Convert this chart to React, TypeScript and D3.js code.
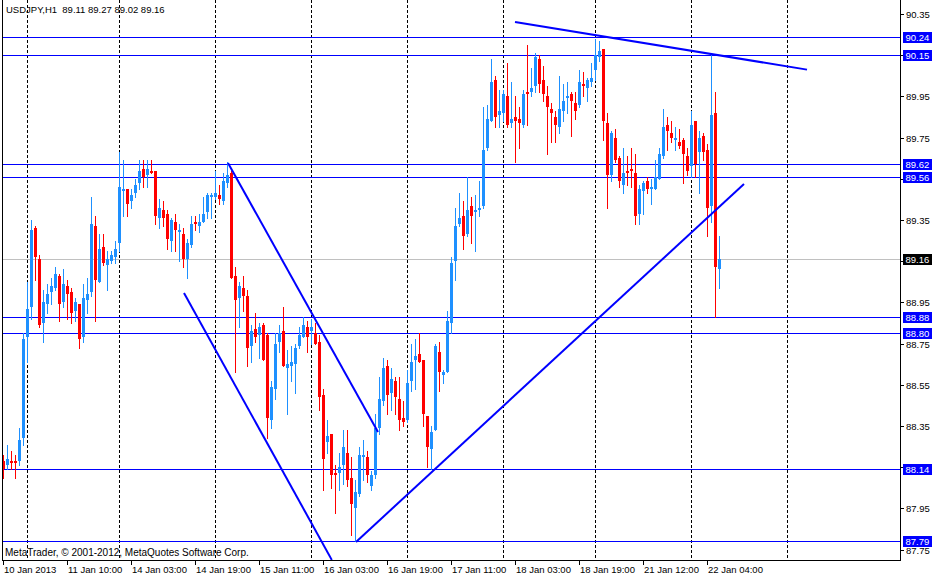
import React from 'react';
import * as d3 from 'd3';

// ---- data ----
const symbolTitle = 'USDJPY,H1';
const opens = [
  88.18, 88.16, 88.18, 88.18, 88.18, 88.29, 88.78, 88.93, 89.31, 89.16,
  88.85, 88.94, 89.00, 89.02, 89.08, 88.95, 89.03, 89.00, 88.91, 88.94,
  88.78, 88.96, 89.00, 89.32, 89.05, 89.22, 89.13, 89.15, 89.17, 89.24,
  89.49, 89.50, 89.44, 89.48, 89.53, 89.60, 89.57, 89.59, 89.59, 89.36,
  89.40, 89.38, 89.25, 89.34, 89.29, 89.28, 89.16, 89.23, 89.34, 89.32,
  89.34, 89.39, 89.46, 89.46, 89.47, 89.44, 89.53, 89.58, 89.08, 88.97,
  89.02, 88.98, 88.74, 88.82, 88.79, 88.84, 88.79, 88.38, 88.53, 88.76,
  88.81, 88.63, 88.64, 88.65, 88.74, 88.78, 88.83, 88.81, 88.80, 88.76,
  88.50, 88.27, 88.31, 88.12, 88.12, 88.16, 88.22, 88.10, 87.95, 88.02,
  88.20, 88.20, 88.06, 88.11, 88.34, 88.47, 88.64, 88.51, 88.57, 88.48,
  88.39, 88.38, 88.57, 88.67, 88.70, 88.67, 88.40, 88.24, 88.33, 88.71,
  88.60, 88.61, 88.85, 89.15, 89.33, 89.37, 89.28, 89.42, 89.39, 89.40,
  89.42, 89.70, 89.83, 90.03, 89.86, 89.87, 89.95, 89.82, 89.85, 89.84,
  89.81, 89.97, 89.97, 90.00, 90.13, 90.03, 89.95, 89.89, 89.85, 89.80,
  89.88, 89.94, 89.96, 89.92, 89.91, 90.01, 89.99, 90.02, 90.08, 90.14,
  90.18, 89.82, 89.57, 89.75, 89.65, 89.52, 89.59, 89.60, 89.58, 89.38,
  89.49, 89.54, 89.50, 89.50, 89.55, 89.66, 89.81, 89.77, 89.74, 89.73,
  89.74, 89.66, 89.61, 89.83, 89.68, 89.76, 89.69, 89.42, 89.87, 89.11,
];
const highs = [
  88.21, 88.26, 88.23, 88.21, 88.34, 88.80, 89.05, 89.35, 89.32, 89.18,
  89.01, 89.04, 89.07, 89.12, 89.09, 89.11, 89.06, 89.02, 88.97, 88.94,
  89.04, 89.07, 89.46, 89.37, 89.28, 89.28, 89.20, 89.20, 89.25, 89.68,
  89.64, 89.50, 89.50, 89.55, 89.64, 89.64, 89.64, 89.64, 89.59, 89.45,
  89.44, 89.40, 89.36, 89.38, 89.33, 89.31, 89.26, 89.37, 89.37, 89.38,
  89.46, 89.48, 89.48, 89.59, 89.52, 89.58, 89.63, 89.59, 89.12, 89.05,
  89.08, 89.01, 88.84, 88.90, 88.85, 88.85, 88.80, 88.57, 88.80, 88.84,
  88.93, 88.72, 88.74, 88.75, 88.83, 88.88, 88.86, 88.87, 88.85, 88.79,
  88.53, 88.38, 88.31, 88.16, 88.22, 88.33, 88.33, 88.20, 88.09, 88.25,
  88.28, 88.23, 88.13, 88.41, 88.59, 88.68, 88.67, 88.63, 88.59, 88.59,
  88.47, 88.62, 88.75, 88.77, 88.80, 88.67, 88.40, 88.35, 88.75, 88.76,
  88.62, 88.91, 89.17, 89.41, 89.48, 89.44, 89.56, 89.46, 89.47, 89.54,
  89.90, 89.91, 90.13, 90.05, 89.98, 89.98, 90.11, 90.02, 89.95, 89.90,
  89.98, 90.20, 90.09, 90.16, 90.15, 90.10, 90.00, 89.92, 89.88, 90.05,
  90.01, 90.02, 89.97, 89.97, 90.08, 90.07, 90.04, 90.11, 90.23, 90.22,
  90.18, 89.87, 89.78, 89.79, 89.66, 89.70, 89.66, 89.70, 89.67, 89.52,
  89.54, 89.56, 89.55, 89.64, 89.70, 89.89, 89.85, 89.83, 89.80, 89.79,
  89.75, 89.70, 89.88, 89.83, 89.78, 89.77, 89.72, 90.15, 89.97, 89.27,
];
const lows = [
  88.10, 88.14, 88.14, 88.10, 88.16, 88.26, 88.66, 88.87, 89.06, 88.83,
  88.76, 88.90, 88.94, 89.01, 88.86, 88.93, 88.87, 88.85, 88.86, 88.73,
  88.76, 88.90, 88.98, 88.86, 89.05, 89.13, 89.01, 89.14, 89.14, 89.20,
  89.37, 89.37, 89.41, 89.46, 89.50, 89.51, 89.51, 89.58, 89.33, 89.31,
  89.32, 89.21, 89.20, 89.20, 89.15, 89.12, 89.07, 89.22, 89.30, 89.29,
  89.34, 89.36, 89.36, 89.45, 89.43, 89.43, 89.51, 89.07, 88.61, 88.83,
  88.91, 88.64, 88.66, 88.76, 88.68, 88.67, 88.29, 88.34, 88.48, 88.71,
  88.64, 88.41, 88.57, 88.51, 88.73, 88.78, 88.71, 88.75, 88.75, 88.43,
  88.04, 88.22, 88.05, 87.93, 88.04, 88.07, 88.06, 87.82, 87.79, 88.01,
  88.09, 88.08, 88.04, 88.10, 88.31, 88.45, 88.41, 88.43, 88.41, 88.33,
  88.35, 88.37, 88.52, 88.53, 88.66, 88.35, 88.15, 88.14, 88.33, 88.52,
  88.56, 88.61, 88.80, 89.06, 89.32, 89.21, 89.27, 89.24, 89.20, 89.37,
  89.41, 89.69, 89.83, 89.80, 89.80, 89.83, 89.80, 89.80, 89.63, 89.70,
  89.80, 89.81, 89.95, 89.97, 89.97, 89.93, 89.67, 89.73, 89.73, 89.77,
  89.83, 89.87, 89.76, 89.84, 89.90, 89.95, 89.93, 90.00, 90.03, 90.12,
  89.74, 89.41, 89.54, 89.63, 89.51, 89.48, 89.52, 89.51, 89.33, 89.33,
  89.38, 89.48, 89.43, 89.50, 89.55, 89.65, 89.69, 89.73, 89.69, 89.70,
  89.53, 89.57, 89.56, 89.56, 89.48, 89.64, 89.27, 89.34, 88.88, 89.02,
];
const closes = [
  88.14, 88.19, 88.17, 88.17, 88.28, 88.77, 88.92, 89.30, 89.17, 88.84,
  88.95, 88.99, 89.03, 89.09, 88.94, 89.04, 88.99, 88.90, 88.95, 88.77,
  88.97, 88.99, 89.33, 89.06, 89.21, 89.14, 89.16, 89.18, 89.21, 89.51,
  89.50, 89.43, 89.47, 89.52, 89.59, 89.56, 89.60, 89.58, 89.37, 89.41,
  89.36, 89.26, 89.35, 89.30, 89.30, 89.16, 89.24, 89.33, 89.33, 89.34,
  89.38, 89.47, 89.47, 89.48, 89.45, 89.54, 89.57, 89.07, 88.96, 89.03,
  88.98, 88.73, 88.81, 88.78, 88.83, 88.67, 88.39, 88.54, 88.75, 88.80,
  88.64, 88.65, 88.66, 88.73, 88.79, 88.84, 88.78, 88.83, 88.75, 88.49,
  88.19, 88.30, 88.11, 88.11, 88.15, 88.25, 88.09, 87.97, 88.03, 88.21,
  88.21, 88.11, 88.11, 88.34, 88.48, 88.63, 88.50, 88.58, 88.49, 88.38,
  88.37, 88.56, 88.66, 88.69, 88.66, 88.41, 88.25, 88.32, 88.74, 88.61,
  88.61, 88.86, 89.14, 89.32, 89.36, 89.27, 89.40, 89.37, 89.40, 89.41,
  89.69, 89.84, 90.02, 89.85, 89.88, 89.96, 89.81, 89.84, 89.83, 89.82,
  89.96, 89.96, 89.99, 90.14, 90.01, 89.96, 89.90, 89.87, 89.81, 89.89,
  89.93, 89.95, 89.93, 89.88, 90.02, 90.00, 90.03, 90.04, 90.15, 90.17,
  89.83, 89.57, 89.77, 89.64, 89.54, 89.58, 89.58, 89.59, 89.37, 89.50,
  89.53, 89.50, 89.51, 89.56, 89.67, 89.80, 89.78, 89.75, 89.75, 89.71,
  89.67, 89.59, 89.81, 89.62, 89.75, 89.68, 89.41, 89.86, 89.12, 89.16,
];

// bar index of each time label, and the labels themselves
const xTickBars = [0, 16, 32, 48, 64, 80, 96, 112, 128, 144, 160, 176];
const xTickLabels = [
  '10 Jan 2013', '11 Jan 10:00', '14 Jan 03:00', '14 Jan 19:00', '15 Jan 11:00',
  '16 Jan 03:00', '16 Jan 19:00', '17 Jan 11:00', '18 Jan 03:00', '18 Jan 19:00',
  '21 Jan 12:00', '22 Jan 04:00',
];
// first bar of each new trading day (period separators)
const dayStartBars = [6, 29, 53, 77, 101, 125, 148, 172, 196];

const yTicks = [90.35, 90.15, 89.95, 89.75, 89.55, 89.35, 89.15, 88.95, 88.75, 88.55, 88.35, 88.15, 87.95, 87.75];
const levelPrices = [90.24, 90.15, 89.62, 89.56, 88.88, 88.80, 88.14, 87.79];
const bidPrice = 89.16;

// trend lines: [bar, price] -> [bar, price]
const trendStarts: [number, number][] = [[56.25, 89.627], [45.25, 88.996], [88.25, 87.787], [128, 90.311]];
const trendEnds: [number, number][] = [[93.75, 88.321], [82.2, 87.70], [185.25, 89.525], [201, 90.08]];

const W = 938;
const H = 577;
const plotL = 2;
const plotR = 900;
const plotT = 0;
const plotB = 560;

const BULL = '#1E90FF';
const BEAR = '#FF0000';
const LEVEL = '#0000FF';
const FONT = "Tahoma, 'Liberation Sans', Arial, sans-serif";

export default function App() {
  const x = d3.scaleLinear().domain([0, 224]).range([3, 899]);
  const y = d3.scaleLinear().domain([87.75, 90.35]).range([549.6, 14]);
  const fmt = d3.format('.2f');

  const px = (i: number) => Math.round(x(i));
  const py = (p: number) => Math.round(y(p));

  const candles = opens.map((o, i) => {
    const c = closes[i];
    const bull = c >= o;
    const col = bull ? BULL : BEAR;
    const cx = px(i);
    const top = py(Math.max(o, c));
    const bot = py(Math.min(o, c));
    return (
      <g key={i}>
        <line x1={cx + 0.5} x2={cx + 0.5} y1={py(highs[i])} y2={py(lows[i]) + 1} stroke={col} strokeWidth={1} />
        <rect x={cx - 1} y={top} width={3} height={Math.max(1, bot - top)} fill={col} />
      </g>
    );
  });

  const line = d3.line<[number, number]>().x((d) => x(d[0])).y((d) => y(d[1]));

  return (
    <div style={{ position: 'absolute', left: 0, top: 0, width: W, height: H, background: '#fff' }}>
      <svg width={W} height={H} style={{ display: 'block' }} fontFamily={FONT}>
        <defs>
          <clipPath id="plot">
            <rect x={plotL} y={plotT} width={plotR - plotL} height={plotB - plotT} />
          </clipPath>
        </defs>
        <rect x={0} y={0} width={W} height={H} fill="#fff" />
        <g shapeRendering="crispEdges">
          {dayStartBars.map((b) => (
            <line key={b} x1={px(b) + 0.5} x2={px(b) + 0.5} y1={plotT} y2={plotB} stroke="#000" strokeDasharray="3,2" />
          ))}
          {levelPrices.map((p) => (
            <line key={p} x1={plotL} x2={plotR} y1={py(p) + 0.5} y2={py(p) + 0.5} stroke={LEVEL} />
          ))}
          <line x1={plotL} x2={plotR} y1={py(bidPrice) + 0.5} y2={py(bidPrice) + 0.5} stroke="#C0C0C0" />
          <g clipPath="url(#plot)">{candles}</g>
        </g>
        <g clipPath="url(#plot)">
          {trendStarts.map((s, k) => (
            <path key={k} d={line([s, trendEnds[k]]) || ''} stroke={LEVEL} strokeWidth={2} fill="none" />
          ))}
        </g>
        <text x={6} y={13} fontSize={9.5} fill="#000">
          {symbolTitle}{'\u00a0\u00a0'}{[opens[179], highs[179], lows[179], closes[179]].map(fmt).join(' ')}
        </text>
        <text x={5} y={556} fontSize={10} fill="#000">
          MetaTrader, © 2001-2012, MetaQuotes Software Corp.
        </text>
        <g shapeRendering="crispEdges">
          <line x1={plotL + 0.5} x2={plotL + 0.5} y1={0} y2={plotB + 1} stroke="#000" />
          <line x1={plotR + 0.5} x2={plotR + 0.5} y1={0} y2={plotB + 1} stroke="#000" />
          <line x1={plotL} x2={plotR + 1} y1={plotB + 0.5} y2={plotB + 0.5} stroke="#000" />
          {yTicks.map((t) => (
            <line key={t} x1={plotR} x2={plotR + 4} y1={py(t) + 0.5} y2={py(t) + 0.5} stroke="#000" />
          ))}
          {xTickBars.map((b) => (
            <line key={b} x1={px(b) + 0.5} x2={px(b) + 0.5} y1={plotB} y2={plotB + 5} stroke="#000" />
          ))}
        </g>
        {yTicks.map((t) => (
          <text key={t} x={906} y={py(t) + 4} fontSize={9.5} fill="#000">{fmt(t)}</text>
        ))}
        {xTickBars.map((b, k) => (
          <text key={b} x={px(b) + 1} y={573} fontSize={9.5} fill="#000">{xTickLabels[k]}</text>
        ))}
        {levelPrices.map((p) => (
          <g key={p}>
            <rect x={903} y={py(p) - 5} width={29} height={11} fill={LEVEL} shapeRendering="crispEdges" />
            <text x={905.5} y={py(p) + 4} fontSize={9.5} fill="#fff">{fmt(p)}</text>
          </g>
        ))}
        <rect x={903} y={py(bidPrice) - 5} width={29} height={11} fill="#000" shapeRendering="crispEdges" />
        <text x={905.5} y={py(bidPrice) + 4} fontSize={9.5} fill="#fff">{fmt(bidPrice)}</text>
      </svg>
    </div>
  );
}
